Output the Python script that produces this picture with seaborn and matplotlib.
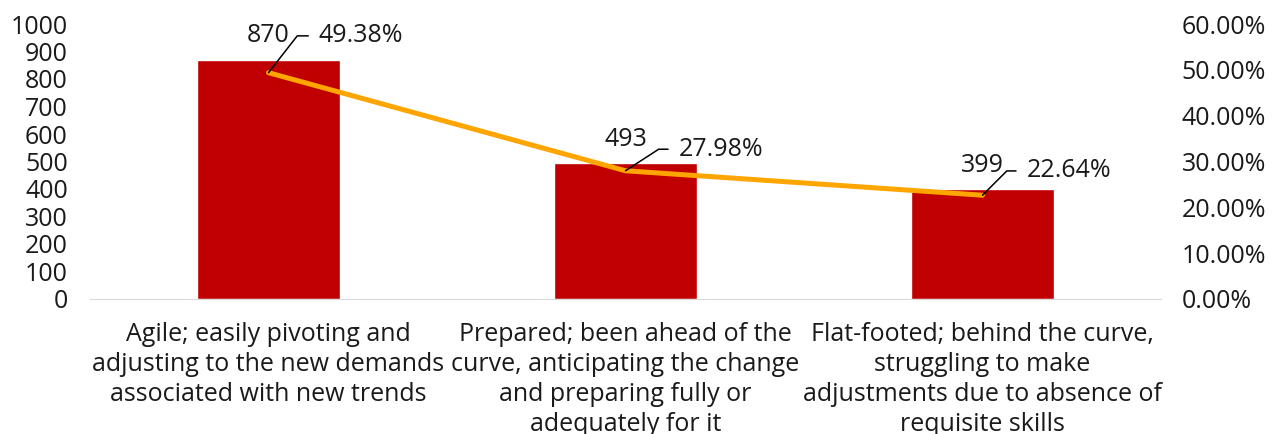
import matplotlib
matplotlib.use("Agg")
import matplotlib.pyplot as plt
import seaborn as sns
import pandas as pd
from matplotlib.ticker import PercentFormatter

categories = [
    "Agile; easily pivoting and\nadjusting to the new demands\nassociated with new trends",
    "Prepared; been ahead of the\ncurve, anticipating the change\nand preparing fully or\nadequately for it",
    "Flat-footed; behind the curve,\nstruggling to make\nadjustments due to absence of\nrequisite skills",
]
counts = [870, 493, 399]
percents = [49.38, 27.98, 22.64]
pct_labels = ["49.38%", "27.98%", "22.64%"]

sns.set_style("white")
plt.rcParams["font.family"] = ["Open Sans", "DejaVu Sans"]
FS = 18
TXT = "#1a1a1a"

df = pd.DataFrame({"cat": categories, "count": counts, "pct": percents})

fig = plt.figure(figsize=(12.73, 4.34), dpi=100)
ax = fig.add_axes([90 / 1273, 1 - 299 / 434, 1071 / 1273, 275 / 434])
sns.barplot(data=df, x="cat", y="count", color="#C00000", width=0.4,
            saturation=1, ax=ax)
ax.set_ylim(0, 1000)
ax.set_yticks(range(0, 1001, 100))
ax.set_xlim(-0.5, 2.5)
ax.set_xlabel("")
ax.set_ylabel("")
ax.tick_params(axis="y", labelsize=FS, length=0, pad=16, labelcolor=TXT)
ax.tick_params(axis="x", labelsize=FS, length=0, pad=16.5, labelcolor=TXT)
for lab in ax.get_xticklabels():
    lab.set_linespacing(1.27)
for s in ["top", "left", "right"]:
    ax.spines[s].set_visible(False)
ax.spines["bottom"].set_color("#D9D9D9")

ax2 = ax.twinx()
sns.lineplot(x=[0, 1, 2], y=percents, color="#FFA500", linewidth=3.6, ax=ax2)
ax2.set_ylim(0, 60)
ax2.set_yticks(range(0, 61, 10))
ax2.yaxis.set_major_formatter(PercentFormatter(decimals=2))
ax2.tick_params(axis="y", labelsize=FS, length=0, pad=15, labelcolor=TXT)
for s in ["top", "left", "right", "bottom"]:
    ax2.spines[s].set_visible(False)

# bar value labels, baseline ~12pt above the bar top
for i, c in enumerate(counts):
    ax.annotate(str(c), xy=(i, c), xytext=(0, 12.5), textcoords="offset points",
                ha="center", va="baseline", fontsize=FS, color=TXT)

# percent labels with leader lines
pct_offsets = [(36, 26.5), (38, 15.5), (31.5, 17.5)]
leader_angles = [52, 33, 45]
for i, (p, lab, off, ang) in enumerate(zip(percents, pct_labels, pct_offsets, leader_angles)):
    ax2.annotate(lab, xy=(i, p), xytext=off, textcoords="offset points",
                 ha="left", va="center", fontsize=FS, color=TXT,
                 arrowprops=dict(arrowstyle="-", color="black", lw=1.1,
                                 relpos=(0, 0.5), shrinkA=5, shrinkB=0,
                                 connectionstyle=f"angle,angleA=0,angleB={ang},rad=0"))

fig.savefig("out.png", dpi=100)
